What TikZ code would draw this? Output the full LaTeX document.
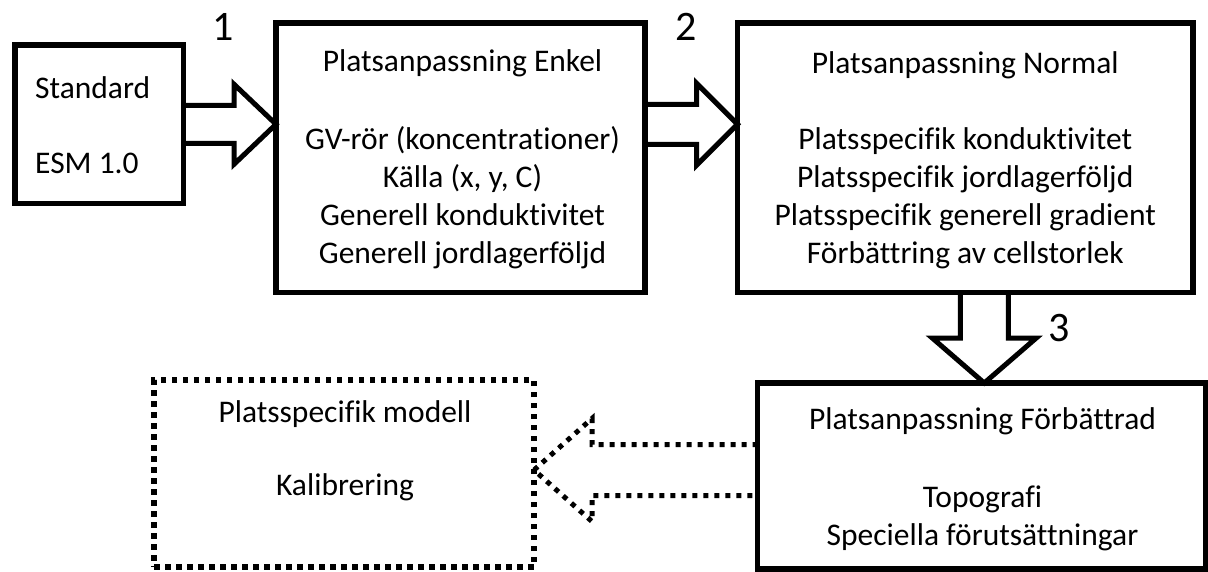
\documentclass[tikz,border=0pt]{standalone}
\usepackage{fontspec}
\setmainfont{Carlito}[Ligatures=NoCommon]
\usetikzlibrary{calc}

\tikzset{
  box/.style={draw, line width=5.5pt, inner sep=0pt, outer sep=0pt},
  dotbox/.style={box, line width=5.5pt, dash pattern=on 5.5pt off 5.5pt},
  txt/.style={font=\fontsize{31.5}{38}\selectfont, align=center, inner sep=0pt, anchor=base},
  num/.style={font=\fontsize{42}{50}\selectfont, inner sep=0pt},
  blockarrow/.style={line width=5pt, line join=miter},
  dotarrow/.style={line width=5pt, dash pattern=on 5pt off 6pt},
}

\begin{document}
\begin{tikzpicture}[x=1pt,y=-1pt]
	\useasboundingbox (0,0) rectangle (1208,571);
	% boxes
	\node[box, minimum width=168.5pt, minimum height=158.5pt] (std) at (99.25,124.25) {};
	\node[box, minimum width=369pt, minimum height=269.5pt] (enkel) at (460.5,157.75) {};
	\node[box, minimum width=455.5pt, minimum height=269.5pt] (normal) at (965.25,157.75) {};
	\node[box, minimum width=448pt, minimum height=186pt] (forb) at (981.5,476) {};
	\node[dotbox, minimum width=380pt, minimum height=187pt] (modell) at (344,473.5) {};
	% texts (placed at the baseline of their last line)
	\node[txt, align=left, anchor=base west] (stdtxt) at ($(std.north west)+(20,128)$) {Standard\\[37pt]ESM 1.0};
	\node[txt] (enkeltxt) at ($(enkel.north)+(2,240)$) {Platsanpassning Enkel\\[40pt]GV-rör (koncentrationer)\\Källa (x, y, C)\\Generell konduktivitet\\Generell jordlagerföljd};
	\node[txt] (normaltxt) at ($(normal.north)+(0,240)$) {Platsanpassning Normal\\[38pt]Platsspecifik konduktivitet\\Platsspecifik jordlagerföljd\\Platsspecifik generell gradient\\Förbättring av cellstorlek};
	\node[txt] (forbtxt) at ($(forb.north)+(1,162)$) {Platsanpassning Förbättrad\\[40pt]Topografi\\Speciella förutsättningar};
	\node[txt] (modelltxt) at ($(modell.north)+(1,115)$) {Platsspecifik modell\\[35pt]Kalibrering};
	% step numbers
	\node[num] (n1) at (223,27) {1};
	\node[num] (n2) at (686,27) {2};
	\node[num] (n3) at (1059,328) {3};
	% block arrows
	\coordinate (a1) at (std.east);
	\coordinate (t1) at (a1 -| enkel.west);
	\draw[blockarrow] ($(a1)+(0,-19)$) -- ($(t1)+(-42,-19)$) -- ($(t1)+(-42,-40)$) -- (t1)
		-- ($(t1)+(-42,40)$) -- ($(t1)+(-42,19)$) -- ($(a1)+(0,19)$);
	\coordinate (a2) at (enkel.east |- a1);
	\coordinate (t2) at (a2 -| normal.west);
	\draw[blockarrow] ($(a2)+(0,-20)$) -- ($(t2)+(-41,-20)$) -- ($(t2)+(-41,-41)$) -- (t2)
		-- ($(t2)+(-41,41)$) -- ($(t2)+(-41,20)$) -- ($(a2)+(0,20)$);
	\coordinate (a3) at ($(normal.south)+(19,0)$);
	\coordinate (t3) at (a3 |- forb.north);
	\draw[blockarrow] ($(a3)+(-24,0)$) -- ($(t3)+(-24,-45)$) -- ($(t3)+(-52,-45)$) -- (t3)
		-- ($(t3)+(52,-45)$) -- ($(t3)+(24,-45)$) -- ($(a3)+(24,0)$);
	\coordinate (a4) at ($(forb.west)+(0,-6)$);
	\coordinate (t4) at (a4 -| modell.east);
	\draw[dotarrow] ($(a4)+(0,-25.5)$) -- ($(t4)+(58,-25.5)$) -- ($(t4)+(58,-51.5)$) -- (t4)
		-- ($(t4)+(58,51.5)$) -- ($(t4)+(58,25.5)$) -- ($(a4)+(0,25.5)$);
\end{tikzpicture}
\end{document}
